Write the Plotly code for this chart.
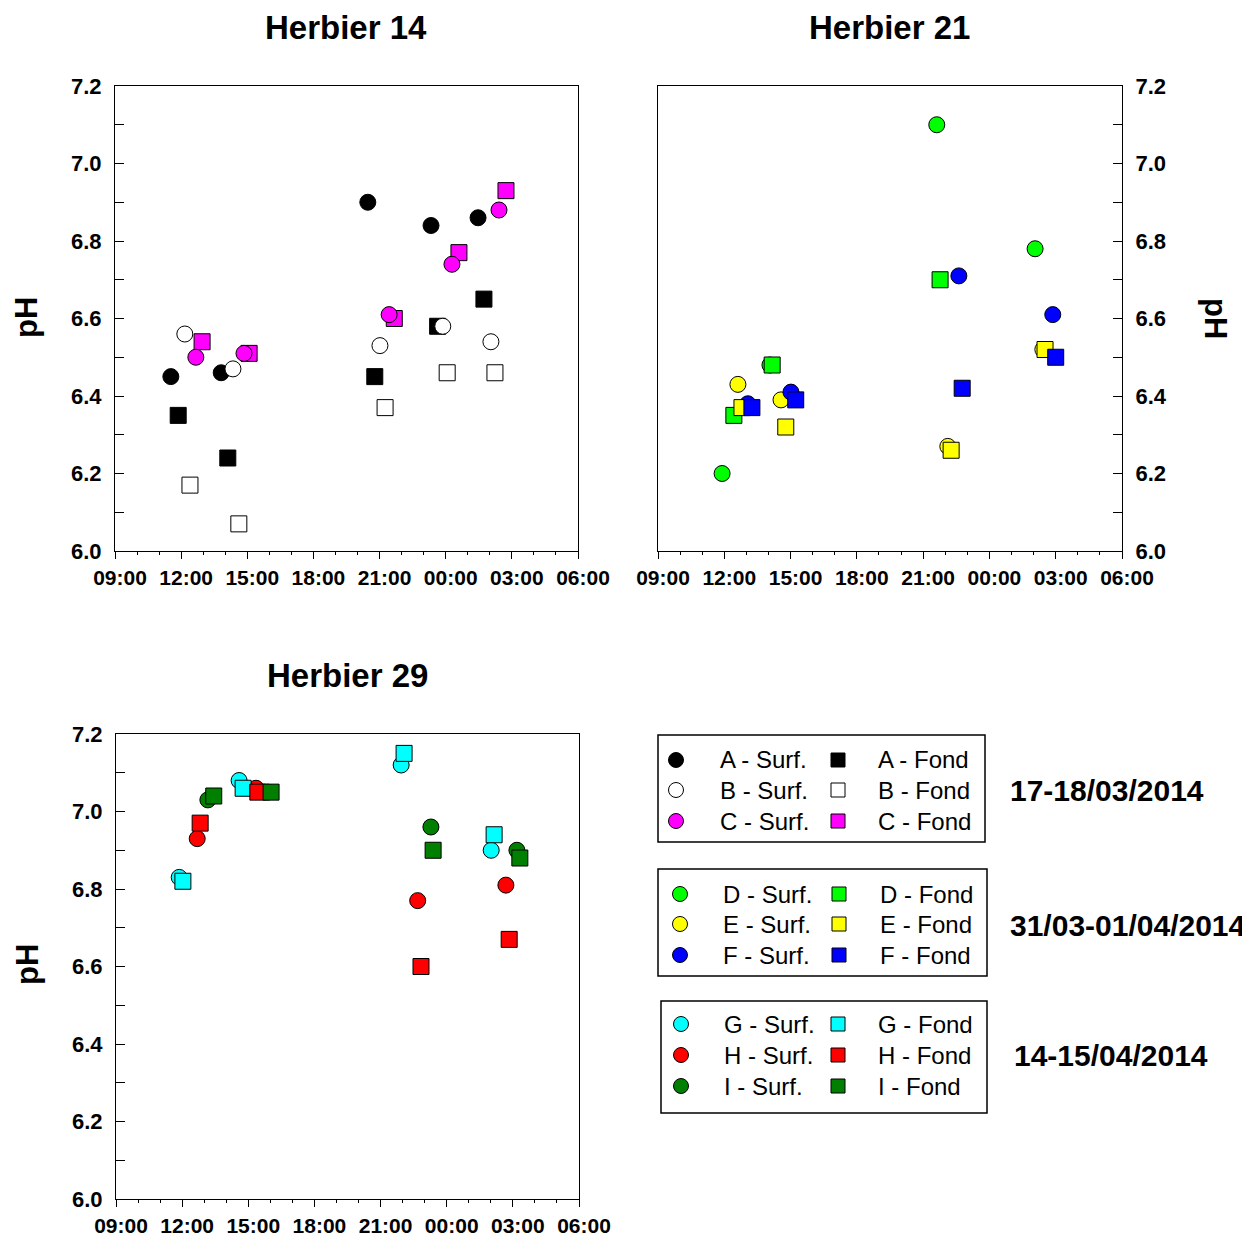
import plotly.graph_objects as go

# ---------------- data ----------------
# times "HH:MM" (values before 09:00 belong to the next day)
h14_A_surf_t = ["11:32", "13:49", "20:28", "23:20", "01:28"]
h14_A_surf_ph = [6.45, 6.46, 6.90, 6.84, 6.86]
h14_A_fond_t = ["11:52", "14:07", "20:47", "23:38", "01:44"]
h14_A_fond_ph = [6.35, 6.24, 6.45, 6.58, 6.65]
h14_B_surf_t = ["12:10", "14:21", "21:01", "23:52", "02:03"]
h14_B_surf_ph = [6.56, 6.47, 6.53, 6.58, 6.54]
h14_B_fond_t = ["12:24", "14:37", "21:15", "00:04", "02:14"]
h14_B_fond_ph = [6.17, 6.07, 6.37, 6.46, 6.46]
h14_C_surf_t = ["12:40", "14:51", "21:26", "00:17", "02:25"]
h14_C_surf_ph = [6.50, 6.51, 6.61, 6.74, 6.88]
h14_C_fond_t = ["12:57", "15:05", "21:40", "00:36", "02:44"]
h14_C_fond_ph = [6.54, 6.51, 6.60, 6.77, 6.93]

h21_D_surf_t = ["11:54", "14:04", "21:37", "02:04"]
h21_D_surf_ph = [6.20, 6.48, 7.10, 6.78]
h21_D_fond_t = ["12:26", "14:10", "21:46"]
h21_D_fond_ph = [6.35, 6.48, 6.70]
h21_E_surf_t = ["12:37", "14:34", "22:07", "02:25"]
h21_E_surf_ph = [6.43, 6.39, 6.27, 6.52]
h21_E_fond_t = ["12:48", "14:47", "22:16", "02:31"]
h21_E_fond_ph = [6.37, 6.32, 6.26, 6.52]
h21_F_surf_t = ["13:04", "15:01", "22:37", "02:52"]
h21_F_surf_ph = [6.38, 6.41, 6.71, 6.61]
h21_F_fond_t = ["13:15", "15:14", "22:46", "03:00"]
h21_F_fond_ph = [6.37, 6.39, 6.42, 6.50]

h29_G_surf_t = ["11:52", "14:35", "21:56", "02:01"]
h29_G_surf_ph = [6.83, 7.08, 7.12, 6.90]
h29_G_fond_t = ["12:02", "14:46", "22:04", "02:09"]
h29_G_fond_ph = [6.82, 7.06, 7.15, 6.94]
h29_H_surf_t = ["12:41", "15:21", "22:41", "02:41"]
h29_H_surf_ph = [6.93, 7.06, 6.77, 6.81]
h29_H_fond_t = ["12:49", "15:26", "22:50", "02:50"]
h29_H_fond_ph = [6.97, 7.05, 6.60, 6.67]
h29_I_surf_t = ["13:10", "15:53", "23:17", "03:11"]
h29_I_surf_ph = [7.03, 7.05, 6.96, 6.90]
h29_I_fond_t = ["13:26", "16:02", "23:23", "03:19"]
h29_I_fond_ph = [7.04, 7.05, 6.90, 6.88]

tick_hours = [9, 12, 15, 18, 21, 24, 27, 30]
tick_labels = ["09:00", "12:00", "15:00", "18:00", "21:00", "00:00", "03:00", "06:00"]

titles = ["Herbier 14", "Herbier 21", "Herbier 29"]
dates = ["17-18/03/2014", "31/03-01/04/2014", "14-15/04/2014"]
stations = [["A", "B", "C"], ["D", "E", "F"], ["G", "H", "I"]]
colors = {"A": "#000000", "B": "#FFFFFF", "C": "#FF00FF",
          "D": "#00FF00", "E": "#FFFF00", "F": "#0000FF",
          "G": "#00FFFF", "H": "#FF0000", "I": "#007F00"}


def hours(ts):
    out = []
    for t in ts:
        h, m = t.split(":")
        v = int(h) + int(m) / 60
        if v < 9:
            v += 24
        out.append(v)
    return out


# the page body has an 8px margin: the figure is offset by 8px
OFF = 8
W, H = 1250 - OFF, 1238 - OFF
px = lambda x: (x - OFF) / W
py = lambda y: 1 - (y - OFF) / H

fig = go.Figure()

series = [
    ("", "A", "fond", h14_A_fond_t, h14_A_fond_ph),
    ("", "B", "fond", h14_B_fond_t, h14_B_fond_ph),
    ("", "C", "fond", h14_C_fond_t, h14_C_fond_ph),
    ("", "A", "surf", h14_A_surf_t, h14_A_surf_ph),
    ("", "B", "surf", h14_B_surf_t, h14_B_surf_ph),
    ("", "C", "surf", h14_C_surf_t, h14_C_surf_ph),
    ("2", "D", "surf", h21_D_surf_t, h21_D_surf_ph),
    ("2", "E", "surf", h21_E_surf_t, h21_E_surf_ph),
    ("2", "F", "surf", h21_F_surf_t, h21_F_surf_ph),
    ("2", "D", "fond", h21_D_fond_t, h21_D_fond_ph),
    ("2", "E", "fond", h21_E_fond_t, h21_E_fond_ph),
    ("2", "F", "fond", h21_F_fond_t, h21_F_fond_ph),
    ("3", "G", "surf", h29_G_surf_t, h29_G_surf_ph),
    ("3", "H", "surf", h29_H_surf_t, h29_H_surf_ph),
    ("3", "I", "surf", h29_I_surf_t, h29_I_surf_ph),
    ("3", "G", "fond", h29_G_fond_t, h29_G_fond_ph),
    ("3", "H", "fond", h29_H_fond_t, h29_H_fond_ph),
    ("3", "I", "fond", h29_I_fond_t, h29_I_fond_ph),
]

for ax, st, depth, ts, vals in series:
    fig.add_trace(go.Scatter(
        x=hours(ts), y=vals, mode="markers",
        xaxis="x" + ax, yaxis="y" + ax,
        name=f"{st} - {'Surf.' if depth == 'surf' else 'Fond'}",
        marker=dict(symbol="circle" if depth == "surf" else "square",
                    size=16, color=colors[st],
                    line=dict(color="#000000", width=1)),
        showlegend=False, hoverinfo="x+y+name"))

FONT = "Liberation Sans, Arial, sans-serif"
ytick_font = dict(family=FONT, size=22, color="black", weight="bold")
xtick_font = dict(family=FONT, size=21, color="black", weight="bold")

def xaxis_cfg(domain, anchor):
    return dict(domain=domain, anchor=anchor, range=[9, 30], automargin=False,
                tickvals=tick_hours, ticktext=tick_labels,
                ticks="outside", ticklen=7, tickwidth=1, tickcolor="black",
                minor=dict(dtick=1, tick0=9, ticks="outside", ticklen=3,
                           tickcolor="black", tickwidth=1),
                showline=True, linecolor="black", linewidth=1, mirror=True,
                showgrid=False, zeroline=False, tickfont=xtick_font,
                ticklabelstandoff=1, ticklabelshift=5)

def yaxis_cfg(domain, anchor, side="left"):
    return dict(domain=domain, anchor=anchor, range=[6.0, 7.2], side=side,
                automargin=False,
                tick0=6.0, dtick=0.2, tickformat=".1f",
                ticks="inside", ticklen=9, tickwidth=1, tickcolor="black",
                minor=dict(dtick=0.1, tick0=6.0, ticks="inside", ticklen=9,
                           tickcolor="black", tickwidth=1),
                showline=True, linecolor="black", linewidth=1, mirror=True,
                showgrid=False, zeroline=False, tickfont=ytick_font,
                ticklabelstandoff=8)

d1x = [px(115), px(578)]
d2x = [px(658), px(1122)]
d3x = [px(116), px(579)]
dtop = [py(551), py(86)]
dbot = [py(1199), py(734)]

# legend symbol axis, in page-pixel coordinates
LX0, LY0 = 625, 640
leg_dx = [px(LX0), 1.0]
leg_dy = [0.0, py(LY0)]

fig.update_layout(
    template="none",
    width=W, height=H, margin=dict(l=0, r=0, t=0, b=0, autoexpand=False),
    paper_bgcolor="white", plot_bgcolor="white", showlegend=False,
    xaxis=xaxis_cfg(d1x, "y"), yaxis=yaxis_cfg(dtop, "x"),
    xaxis2=xaxis_cfg(d2x, "y2"), yaxis2=yaxis_cfg(dtop, "x2", side="right"),
    xaxis3=xaxis_cfg(d3x, "y3"), yaxis3=yaxis_cfg(dbot, "x3"),
    xaxis4=dict(domain=leg_dx, anchor="y4", range=[LX0, 1250], visible=False,
                fixedrange=True, automargin=False),
    yaxis4=dict(domain=leg_dy, anchor="x4", range=[1238, LY0], visible=False,
                fixedrange=True, automargin=False),
    font=dict(family=FONT, color="black"),
)

boxes = [
    dict(x0=658, x1=985, y0=735, y1=842, rows=[760, 790, 821],
         cx=676, tx=718, sx=838, fx=878, dx=1008, dy=790),
    dict(x0=658, x1=987, y0=869, y1=976, rows=[894, 924, 955],
         cx=680, tx=721, sx=839, fx=880, dx=1008, dy=925),
    dict(x0=661, x1=987, y0=1001, y1=1113, rows=[1024, 1055, 1086],
         cx=681, tx=722, sx=838, fx=878, dx=1012, dy=1055),
]

annotations = []
shapes = []
circ_x, circ_y, circ_c = [], [], []
sq_x, sq_y, sq_c = [], [], []
for b, sts, date in zip(boxes, stations, dates):
    shapes.append(dict(type="rect", xref="paper", yref="paper",
                       x0=px(b["x0"]), x1=px(b["x1"]), y0=py(b["y1"]), y1=py(b["y0"]),
                       line=dict(color="black", width=1.5), fillcolor="rgba(0,0,0,0)"))
    for st, ry in zip(sts, b["rows"]):
        circ_x.append(b["cx"]); circ_y.append(ry); circ_c.append(colors[st])
        sq_x.append(b["sx"]); sq_y.append(ry); sq_c.append(colors[st])
        annotations.append(dict(text=f"{st} - Surf.", x=px(b["tx"]), y=py(ry),
                                xref="paper", yref="paper", xanchor="left", yanchor="middle",
                                showarrow=False, font=dict(size=24)))
        annotations.append(dict(text=f"{st} - Fond", x=px(b["fx"] - 2), y=py(ry),
                                xref="paper", yref="paper", xanchor="left", yanchor="middle",
                                showarrow=False, font=dict(size=24)))
    annotations.append(dict(text=f"<b>{date}</b>", x=px(b["dx"]), y=py(b["dy"]),
                            xref="paper", yref="paper", xanchor="left", yanchor="middle",
                            showarrow=False, font=dict(size=30)))

fig.add_trace(go.Scatter(x=circ_x, y=circ_y, xaxis="x4", yaxis="y4", mode="markers",
                         marker=dict(symbol="circle", size=15, color=circ_c,
                                     line=dict(color="black", width=1)),
                         showlegend=False, hoverinfo="skip"))
fig.add_trace(go.Scatter(x=sq_x, y=sq_y, xaxis="x4", yaxis="y4", mode="markers",
                         marker=dict(symbol="square", size=14, color=sq_c,
                                     line=dict(color="black", width=1)),
                         showlegend=False, hoverinfo="skip"))

for t, (cx, cy) in zip(titles, [(346, 27), (889, 27), (347, 675)]):
    annotations.append(dict(text=f"<b>{t}</b>", x=px(cx), y=py(cy), xref="paper", yref="paper",
                            xanchor="center", yanchor="middle", showarrow=False,
                            font=dict(size=33)))
for (cx, cy, ang) in [(27, 318, -90), (1215, 318, 90), (27, 965, -90)]:
    annotations.append(dict(text="<b>pH</b>", x=px(cx), y=py(cy), xref="paper", yref="paper",
                            xanchor="center", yanchor="middle", showarrow=False,
                            textangle=ang, font=dict(size=31)))

fig.update_layout(annotations=annotations, shapes=shapes)

fig.write_html("out.html")
